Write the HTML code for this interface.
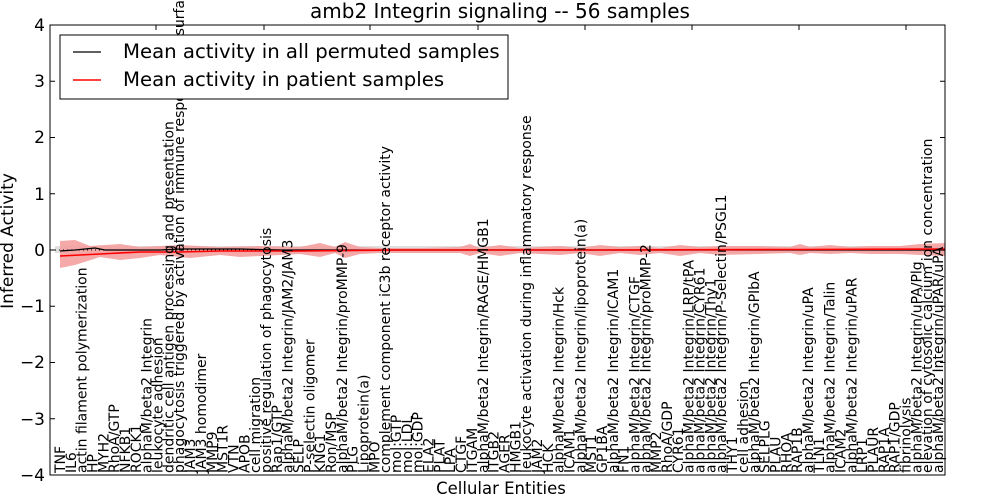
<!DOCTYPE html>
<html><head><meta charset="utf-8"><style>
html,body{margin:0;padding:0;background:#fff;}
svg{display:block;font-family:"DejaVu Sans","Liberation Sans",sans-serif;}
.l{font-size:14px;fill:#000;}
</style></head><body>
<svg width="1000" height="500" viewBox="0 0 1000 500" xmlns="http://www.w3.org/2000/svg">
<rect width="1000" height="500" fill="#fff"/>
<polygon fill="#e0e0e0" points="55,246 945,246 945,253 55,253"/>
<polygon fill="#f4a0a0" fill-opacity="0.9" points="60,241 75,240 90,246 120,244 140,247 180,245 220,247 260,246 300,247 320,243 335,247 345,242 360,247 380,248 420,248 460,247 470,244 480,248 500,245 520,248 560,246 580,248 600,245 620,247 640,246 660,248 680,245 700,247 720,246 760,246 790,247 800,244 810,247 830,245 850,247 870,246 900,246 920,244 945,243 945,256 920,255 900,254 870,254 850,253 830,254 810,253 800,255 790,253 760,254 720,255 700,253 680,256 660,253 640,255 620,253 600,256 580,253 560,255 520,253 500,256 480,253 470,256 460,253 420,253 380,253 360,254 345,258 335,253 320,257 300,254 260,256 240,257 220,255 190,258 160,255 140,258 120,260 100,257 75,265 60,268"/>
<line x1="55" y1="250" x2="945" y2="250" stroke="#000" stroke-width="1" stroke-dasharray="1,3"/>
<polyline fill="none" stroke="#000" stroke-width="1.2" points="60,251 75,250 85,249 95,248 105,250 120,250 140,250 160,250 180,249 200,249 240,249 280,250 320,250 945,250"/>
<polyline fill="none" stroke="#f00" stroke-width="1.6" points="60,256 100,254 140,252 180,252 220,251 260,251 300,251 400,250 600,250 800,249.5 945,249"/>
<rect x="50" y="25" width="895" height="450" fill="none" stroke="#000" stroke-width="1"/>
<g stroke="#000" stroke-width="1">
<line x1="50" y1="81.25" x2="55" y2="81.25"/><line x1="50" y1="137.5" x2="55" y2="137.5"/><line x1="50" y1="193.75" x2="55" y2="193.75"/><line x1="50" y1="250" x2="55" y2="250"/><line x1="50" y1="306.25" x2="55" y2="306.25"/><line x1="50" y1="362.5" x2="55" y2="362.5"/><line x1="50" y1="418.75" x2="55" y2="418.75"/>
<line x1="945" y1="81.25" x2="940" y2="81.25"/><line x1="945" y1="137.5" x2="940" y2="137.5"/><line x1="945" y1="193.75" x2="940" y2="193.75"/><line x1="945" y1="250" x2="940" y2="250"/><line x1="945" y1="306.25" x2="940" y2="306.25"/><line x1="945" y1="362.5" x2="940" y2="362.5"/><line x1="945" y1="418.75" x2="940" y2="418.75"/>
<line x1="156" y1="25" x2="156" y2="30"/><line x1="264" y1="25" x2="264" y2="30"/><line x1="370" y1="25" x2="370" y2="30"/><line x1="478" y1="25" x2="478" y2="30"/><line x1="585" y1="25" x2="585" y2="30"/><line x1="692" y1="25" x2="692" y2="30"/><line x1="799" y1="25" x2="799" y2="30"/><line x1="906" y1="25" x2="906" y2="30"/>
</g>
<g font-size="17" text-anchor="end" fill="#000">
<text x="45" y="31">4</text><text x="45" y="87">3</text><text x="45" y="143">2</text><text x="45" y="200">1</text><text x="45" y="256">0</text><text x="45" y="312">−1</text><text x="45" y="368">−2</text><text x="45" y="425">−3</text><text x="45" y="481">−4</text>
</g>
<text x="500" y="18" font-size="20" text-anchor="middle">amb2 Integrin signaling -- 56 samples</text>
<text x="501" y="494" font-size="16.5" text-anchor="middle">Cellular Entities</text>
<text transform="translate(13,241) rotate(-90)" font-size="17" text-anchor="middle">Inferred Activity</text>
<g class="l">
<text transform="translate(65.0,473) rotate(-90)">TNF</text>
<text transform="translate(75.8,473) rotate(-90)">IL6</text>
<text transform="translate(86.7,473) rotate(-90)">actin filament polymerization</text>
<text transform="translate(97.5,473) rotate(-90)">HP</text>
<text transform="translate(108.4,473) rotate(-90)">MYH2</text>
<text transform="translate(119.2,473) rotate(-90)">RhoA/GTP</text>
<text transform="translate(130.0,473) rotate(-90)">NFKB1</text>
<text transform="translate(140.9,473) rotate(-90)">ROCK1</text>
<text transform="translate(151.7,473) rotate(-90)">alphaM/beta2 Integrin</text>
<text transform="translate(162.6,473) rotate(-90)">leukocyte adhesion</text>
<text transform="translate(173.4,473) rotate(-90)">dendritic cell antigen processing and presentation</text>
<text transform="translate(184.2,473) rotate(-90)">phagocytosis triggered by activation of immune response cell surface activator</text>
<text transform="translate(195.1,473) rotate(-90)">JAM3</text>
<text transform="translate(205.9,473) rotate(-90)">JAM3 homodimer</text>
<text transform="translate(216.8,473) rotate(-90)">MMP9</text>
<text transform="translate(227.6,473) rotate(-90)">MST1R</text>
<text transform="translate(238.4,473) rotate(-90)">VTN</text>
<text transform="translate(249.3,473) rotate(-90)">APOB</text>
<text transform="translate(260.1,473) rotate(-90)">cell migration</text>
<text transform="translate(271.0,473) rotate(-90)">positive regulation of phagocytosis</text>
<text transform="translate(281.8,473) rotate(-90)">Rap1/GTP</text>
<text transform="translate(292.6,473) rotate(-90)">alphaM/beta2 Integrin/JAM2/JAM3</text>
<text transform="translate(303.5,473) rotate(-90)">SELP</text>
<text transform="translate(314.3,473) rotate(-90)">P-selectin oligomer</text>
<text transform="translate(325.2,473) rotate(-90)">KNG1</text>
<text transform="translate(336.0,473) rotate(-90)">Ron/MSP</text>
<text transform="translate(346.8,473) rotate(-90)">alphaM/beta2 Integrin/proMMP-9</text>
<text transform="translate(357.7,473) rotate(-90)">PLG</text>
<text transform="translate(368.5,473) rotate(-90)">Lipoprotein(a)</text>
<text transform="translate(379.4,473) rotate(-90)">MPO</text>
<text transform="translate(390.2,473) rotate(-90)">complement component iC3b receptor activity</text>
<text transform="translate(401.0,473) rotate(-90)">mol:GTP</text>
<text transform="translate(411.9,473) rotate(-90)">mol:LDL</text>
<text transform="translate(422.7,473) rotate(-90)">mol:GDP</text>
<text transform="translate(433.6,473) rotate(-90)">ELA2</text>
<text transform="translate(444.4,473) rotate(-90)">PLAT</text>
<text transform="translate(455.2,473) rotate(-90)">LPA</text>
<text transform="translate(466.1,473) rotate(-90)">CTGF</text>
<text transform="translate(476.9,473) rotate(-90)">ITGAM</text>
<text transform="translate(487.8,473) rotate(-90)">alphaM/beta2 Integrin/RAGE/HMGB1</text>
<text transform="translate(498.6,473) rotate(-90)">ITGB2</text>
<text transform="translate(509.4,473) rotate(-90)">AGER</text>
<text transform="translate(520.3,473) rotate(-90)">HMGB1</text>
<text transform="translate(531.1,473) rotate(-90)">leukocyte activation during inflammatory response</text>
<text transform="translate(542.0,473) rotate(-90)">JAM2</text>
<text transform="translate(552.8,473) rotate(-90)">HCK</text>
<text transform="translate(563.6,473) rotate(-90)">alphaM/beta2 Integrin/Hck</text>
<text transform="translate(574.5,473) rotate(-90)">ICAM1</text>
<text transform="translate(585.3,473) rotate(-90)">alphaM/beta2 Integrin/lipoprotein(a)</text>
<text transform="translate(596.2,473) rotate(-90)">MST1</text>
<text transform="translate(607.0,473) rotate(-90)">GP1BA</text>
<text transform="translate(617.8,473) rotate(-90)">alphaM/beta2 Integrin/ICAM1</text>
<text transform="translate(628.7,473) rotate(-90)">FN1</text>
<text transform="translate(639.5,473) rotate(-90)">alphaM/beta2 Integrin/CTGF</text>
<text transform="translate(650.4,473) rotate(-90)">alphaM/beta2 Integrin/proMMP-2</text>
<text transform="translate(661.2,473) rotate(-90)">MMP2</text>
<text transform="translate(672.0,473) rotate(-90)">RhoA/GDP</text>
<text transform="translate(682.9,473) rotate(-90)">CYR61</text>
<text transform="translate(693.7,473) rotate(-90)">alphaM/beta2 Integrin/LRP/tPA</text>
<text transform="translate(704.6,473) rotate(-90)">alphaM/beta2 Integrin/CYR61</text>
<text transform="translate(715.4,473) rotate(-90)">alphaM/beta2 Integrin/Thy1</text>
<text transform="translate(726.2,473) rotate(-90)">alphaM/beta2 Integrin/P-Selectin/PSGL1</text>
<text transform="translate(737.1,473) rotate(-90)">THY1</text>
<text transform="translate(747.9,473) rotate(-90)">cell adhesion</text>
<text transform="translate(758.8,473) rotate(-90)">alphaM/beta2 Integrin/GPIbA</text>
<text transform="translate(769.6,473) rotate(-90)">SELPLG</text>
<text transform="translate(780.4,473) rotate(-90)">PLAU</text>
<text transform="translate(791.3,473) rotate(-90)">RHOA</text>
<text transform="translate(802.1,473) rotate(-90)">RAP1B</text>
<text transform="translate(813.0,473) rotate(-90)">alphaM/beta2 Integrin/uPA</text>
<text transform="translate(823.8,473) rotate(-90)">TLN1</text>
<text transform="translate(834.6,473) rotate(-90)">alphaM/beta2 Integrin/Talin</text>
<text transform="translate(845.5,473) rotate(-90)">ICAM2</text>
<text transform="translate(856.3,473) rotate(-90)">alphaM/beta2 Integrin/uPAR</text>
<text transform="translate(867.2,473) rotate(-90)">LRP1</text>
<text transform="translate(878.0,473) rotate(-90)">PLAUR</text>
<text transform="translate(888.8,473) rotate(-90)">RAP1A</text>
<text transform="translate(899.7,473) rotate(-90)">RAP1/GDP</text>
<text transform="translate(910.5,473) rotate(-90)">fibrinolysis</text>
<text transform="translate(921.4,473) rotate(-90)">alphaM/beta2 Integrin/uPA/Plg</text>
<text transform="translate(932.2,473) rotate(-90)">elevation of cytosolic calcium ion concentration</text>
<text transform="translate(943.0,473) rotate(-90)">alphaM/beta2 Integrin/uPAR/uPA</text>
</g>
<rect x="60" y="35" width="448" height="64" fill="#fff" stroke="#000" stroke-width="1"/>
<line x1="73" y1="52" x2="101" y2="52" stroke="#000" stroke-width="1.2"/>
<line x1="73" y1="80" x2="101" y2="80" stroke="#f00" stroke-width="1.4"/>
<text x="123" y="58" font-size="19.7">Mean activity in all permuted samples</text>
<text x="123" y="86" font-size="19.7">Mean activity in patient samples</text>
</svg>
</body></html>
